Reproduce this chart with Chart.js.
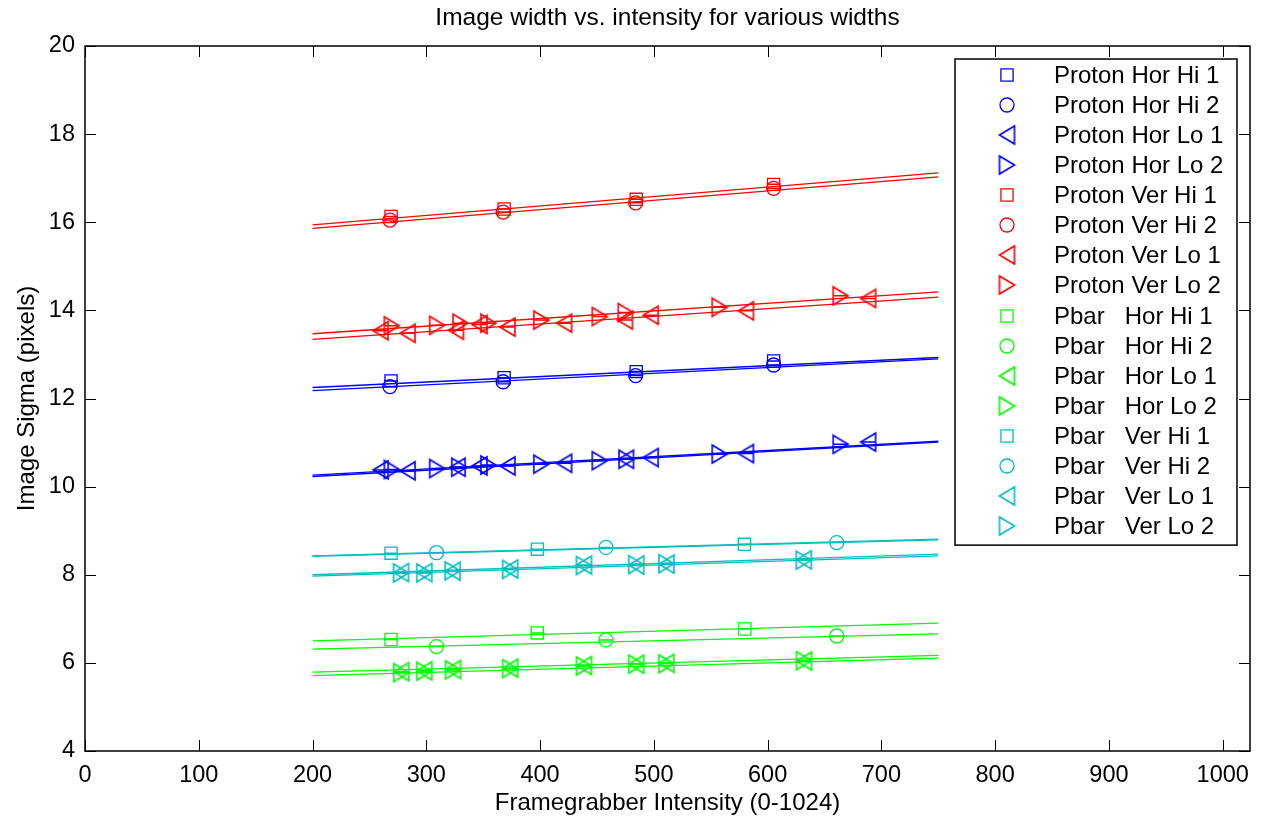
<!DOCTYPE html>
<html>
<head>
<meta charset="utf-8">
<title>Image width vs. intensity</title>
<script src="https://cdn.jsdelivr.net/npm/chart.js@4.4.1/dist/chart.umd.min.js"></script>
<style>
  html, body { margin: 0; padding: 0; background: #fff; }
  #wrap { width: 1266px; height: 819px; }
</style>
</head>
<body>
<div id="wrap"><canvas id="sigma" width="1266" height="819"></canvas></div>
<script>
// axis ticks
const xTicks = [0, 100, 200, 300, 400, 500, 600, 700, 800, 900, 1000];
const yTicks = [4, 6, 8, 10, 12, 14, 16, 18, 20];

const seriesLabels = [
  'Proton Hor Hi 1', 'Proton Hor Hi 2', 'Proton Hor Lo 1', 'Proton Hor Lo 2',
  'Proton Ver Hi 1', 'Proton Ver Hi 2', 'Proton Ver Lo 1', 'Proton Ver Lo 2',
  'Pbar   Hor Hi 1', 'Pbar   Hor Hi 2', 'Pbar   Hor Lo 1', 'Pbar   Hor Lo 2',
  'Pbar   Ver Hi 1', 'Pbar   Ver Hi 2', 'Pbar   Ver Lo 1', 'Pbar   Ver Lo 2'
];
const seriesColors = [
  '#0000ff', '#0000ff', '#0000ff', '#0000ff',
  '#ff0000', '#ff0000', '#ff0000', '#ff0000',
  '#00ff00', '#00ff00', '#00ff00', '#00ff00',
  '#00bfbf', '#00bfbf', '#00bfbf', '#00bfbf'
];

// measured intensities, one row per series
const seriesX = [
  [269, 368.4, 484.5, 605.3],
  [268, 367.5, 484, 605.3],
  [259.8, 283.5, 327.5, 346.7, 371.3, 421.1, 475.5, 497.2, 580.9, 688.3],
  [269.7, 309.6, 329, 354.6, 401.1, 452.5, 476, 557.9, 664.2],
  [269, 368.4, 484.5, 605.3],
  [268, 367.5, 484, 605.3],
  [259.8, 283.5, 326, 346.7, 371.3, 421.1, 474.6, 497.2, 580.9, 688.3],
  [269.7, 309.6, 330.1, 354.6, 401.1, 452.5, 475.3, 557.9, 664.2],
  [269, 397.6, 580],
  [309, 457.9, 660.8],
  [278, 298.2, 323.5, 373.7, 438.6, 484.5, 511, 632],
  [278, 298.2, 323.5, 373.7, 438.6, 484.5, 511, 632],
  [269, 397.6, 579.6],
  [309, 457.9, 660.8],
  [277.8, 298.2, 323.1, 373.7, 438.6, 484.5, 511.1, 631.8],
  [277.8, 298.2, 323.1, 373.7, 438.6, 484.5, 511.1, 631.8]
];

// measured image sigma, same layout as seriesX
const seriesY = [
  [12.40, 12.47, 12.61, 12.85],
  [12.27, 12.38, 12.52, 12.76],
  [10.38, 10.36, 10.44, 10.47, 10.47, 10.53, 10.62, 10.66, 10.75, 11.01],
  [10.39, 10.41, 10.44, 10.49, 10.51, 10.59, 10.62, 10.74, 10.96],
  [16.13, 16.30, 16.52, 16.86],
  [16.05, 16.23, 16.44, 16.77],
  [13.54, 13.48, 13.55, 13.68, 13.62, 13.71, 13.78, 13.89, 13.99, 14.27],
  [13.65, 13.66, 13.71, 13.71, 13.78, 13.86, 13.95, 14.07, 14.33],
  [6.53, 6.68, 6.77],
  [6.37, 6.52, 6.61],
  [5.80, 5.82, 5.85, 5.88, 5.94, 5.97, 5.99, 6.04],
  [5.78, 5.81, 5.84, 5.87, 5.93, 5.97, 5.98, 6.05],
  [8.49, 8.58, 8.69],
  [8.50, 8.62, 8.73],
  [8.05, 8.05, 8.08, 8.13, 8.22, 8.22, 8.24, 8.34],
  [8.04, 8.04, 8.09, 8.12, 8.21, 8.23, 8.25, 8.33]
];

// straight-line fits, evaluated at the ends of fitX
const fitX = [200, 750];
const fitY = [
  [12.25, 12.93], [12.18, 12.90], [10.23, 11.01], [10.26, 11.03],
  [15.94, 17.12], [15.86, 17.03], [13.34, 14.30], [13.47, 14.42],
  [6.50, 6.90], [6.31, 6.66], [5.79, 6.17], [5.71, 6.11],
  [8.43, 8.81], [8.42, 8.79], [7.97, 8.43], [8.00, 8.47]
];

const FONT = "'Liberation Sans', Arial, Helvetica, sans-serif";
Chart.defaults.font.family = FONT;
Chart.defaults.color = '#000';

// open triangle centred on its bounding box (dir -1 points left, +1 right)
function triangleMarker(color, dir) {
  const w = 15, h = 18, pad = 2;
  const c = document.createElement('canvas');
  c.width = w + pad * 2;
  c.height = h + pad * 2;
  const g = c.getContext('2d');
  const cx = c.width / 2, cy = c.height / 2;
  g.strokeStyle = color;
  g.lineWidth = 1.6;
  g.beginPath();
  g.moveTo(cx + dir * w / 2, cy);
  g.lineTo(cx - dir * w / 2, cy - h / 2);
  g.lineTo(cx - dir * w / 2, cy + h / 2);
  g.closePath();
  g.stroke();
  return c;
}

// marker for series i: square, circle, left triangle, right triangle
function markerFor(i) {
  const kind = i % 4;
  if (kind === 0) return { pointStyle: 'rect', radius: 8.6 };
  if (kind === 1) return { pointStyle: 'circle', radius: 7 };
  return { pointStyle: triangleMarker(seriesColors[i], kind === 2 ? -1 : 1), radius: 10 };
}

const datasets = [];
seriesLabels.forEach((label, i) => {
  const m = markerFor(i);
  datasets.push({
    label: label,
    marker: m,
    data: seriesX[i].map((x, j) => ({ x: x, y: seriesY[i][j] })),
    showLine: false,
    borderColor: seriesColors[i],
    backgroundColor: 'rgba(0,0,0,0)',
    pointStyle: m.pointStyle,
    pointRadius: m.radius,
    pointHoverRadius: m.radius,
    pointBorderWidth: 1.3
  });
  datasets.push({
    label: label + ' fit',
    isFit: true,
    data: fitX.map((x, j) => ({ x: x, y: fitY[i][j] })),
    showLine: true,
    borderColor: seriesColors[i],
    borderWidth: 1.3,
    pointRadius: 0,
    fill: false
  });
});

// short horizontal bar through every data marker
const markerBars = {
  id: 'markerBars',
  afterDatasetsDraw(chart) {
    const ctx = chart.ctx;
    ctx.save();
    ctx.lineWidth = 1.5;
    chart.data.datasets.forEach((ds, i) => {
      if (ds.isFit) return;
      ctx.strokeStyle = ds.borderColor;
      ctx.beginPath();
      chart.getDatasetMeta(i).data.forEach(pt => {
        ctx.moveTo(pt.x - 7, pt.y);
        ctx.lineTo(pt.x + 7, pt.y);
      });
      ctx.stroke();
    });
    ctx.restore();
  }
};

// boxed axes with inward ticks on all four sides
const boxAxes = {
  id: 'boxAxes',
  afterDatasetsDraw(chart) {
    const { ctx, chartArea: a, scales: { x, y } } = chart;
    const len = 11;
    ctx.save();
    ctx.strokeStyle = '#000';
    ctx.lineWidth = 1;
    ctx.beginPath();
    xTicks.forEach(v => {
      const px = Math.round(x.getPixelForValue(v)) + 0.5;
      ctx.moveTo(px, a.bottom); ctx.lineTo(px, a.bottom - len);
      ctx.moveTo(px, a.top); ctx.lineTo(px, a.top + len);
    });
    yTicks.forEach(v => {
      const py = Math.round(y.getPixelForValue(v)) + 0.5;
      ctx.moveTo(a.left, py); ctx.lineTo(a.left + len, py);
      ctx.moveTo(a.right, py); ctx.lineTo(a.right - len, py);
    });
    ctx.stroke();
    ctx.lineWidth = 1.5;
    ctx.strokeRect(a.left, a.top, a.right - a.left, a.bottom - a.top);
    ctx.restore();
  }
};

// legend box in the upper right corner of the plot
const boxLegend = {
  id: 'boxLegend',
  afterDraw(chart) {
    const { ctx, chartArea: a } = chart;
    const entries = chart.data.datasets.filter(ds => !ds.isFit);
    const rowH = 30.07;
    const w = 282;
    const h = rowH * entries.length + 5;
    const left = a.right - 13 - w;
    const top = a.top + 13;
    ctx.save();
    ctx.fillStyle = '#fff';
    ctx.fillRect(left, top, w, h);
    ctx.strokeStyle = '#000';
    ctx.lineWidth = 1.5;
    ctx.strokeRect(left, top, w, h);
    ctx.font = '24px ' + FONT;
    ctx.textBaseline = 'middle';
    ctx.textAlign = 'left';
    entries.forEach((ds, k) => {
      const cy = Math.round(top + 16 + k * rowH);
      ctx.strokeStyle = ds.borderColor;
      ctx.fillStyle = 'rgba(0,0,0,0)';
      ctx.lineWidth = 1.3;
      Chart.helpers.drawPoint(ctx, {
        pointStyle: ds.marker.pointStyle,
        radius: ds.marker.radius,
        rotation: 0,
        borderWidth: 1.3
      }, Math.round(left + 52), cy);
      ctx.fillStyle = '#000';
      ctx.fillText(ds.label, left + 99, cy + 1);
    });
    ctx.restore();
  }
};

new Chart(document.getElementById('sigma'), {
  type: 'scatter',
  data: { datasets: datasets },
  plugins: [markerBars, boxAxes, boxLegend],
  options: {
    responsive: false,
    animation: false,
    events: [],
    layout: { padding: { top: 0, right: 16, bottom: 0, left: 0 } },
    plugins: {
      legend: { display: false },
      tooltip: { enabled: false },
      title: {
        display: true,
        fullSize: false,
        text: 'Image width vs. intensity for various widths',
        color: '#000',
        font: { size: 24.5, weight: 'normal' },
        padding: { top: 4, bottom: 12.6 }
      }
    },
    scales: {
      x: {
        type: 'linear',
        min: 0,
        max: 1024,
        afterBuildTicks: s => { s.ticks = xTicks.map(v => ({ value: v })); },
        afterFit: s => { s.height = 68; },
        grid: { display: false, drawTicks: false },
        border: { display: false },
        ticks: { color: '#000', font: { size: 23.5 }, padding: 10, maxRotation: 0, autoSkip: false, callback: v => String(v) },
        title: {
          display: true,
          text: 'Framegrabber Intensity (0-1024)',
          color: '#000',
          font: { size: 24 },
          padding: { top: 0, bottom: 1.6 }
        }
      },
      y: {
        type: 'linear',
        min: 4,
        max: 20,
        afterBuildTicks: s => { s.ticks = yTicks.map(v => ({ value: v })); },
        afterFit: s => { s.width = 85; },
        grid: { display: false, drawTicks: false },
        border: { display: false },
        ticks: { color: '#000', font: { size: 23.5 }, padding: 10, autoSkip: false, callback: v => String(v) },
        title: {
          display: true,
          text: 'Image Sigma (pixels)',
          color: '#000',
          font: { size: 24 },
          padding: { top: 12.6, bottom: 0 }
        }
      }
    }
  }
});
</script>
</body>
</html>
